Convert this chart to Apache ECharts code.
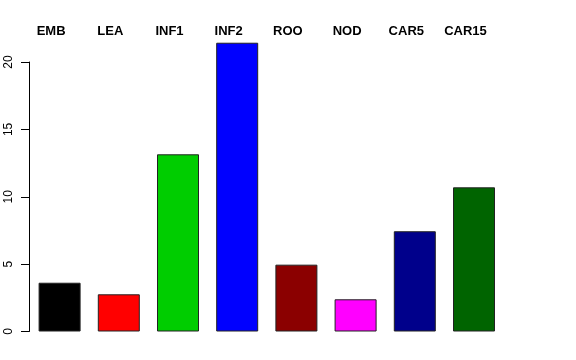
<!DOCTYPE html>
<html>
<head>
<meta charset="utf-8">
<script src="https://cdn.jsdelivr.net/npm/echarts@6/dist/echarts.min.js"></script>
<style>html,body{margin:0;padding:0;background:#fff}#c{width:576px;height:360px}</style>
</head>
<body>
<div id="c"></div>
<script>
var categories = ['EMB', 'LEA', 'INF1', 'INF2', 'ROO', 'NOD', 'CAR5', 'CAR15'];
var values = [3.62, 2.76, 13.15, 21.43, 4.96, 2.39, 7.44, 10.70];
var barColors = ['#000000', '#FF0000', '#00CD00', '#0000FF', '#8B0000', '#FF00FF', '#00008B', '#006400'];
var yTicks = [0, 5, 10, 15, 20];

var chart = echarts.init(document.getElementById('c'), null, {renderer: 'canvas'});
chart.setOption({
  animation: false,
  backgroundColor: '#ffffff',
  grid: {left: 30, top: 62, width: 473.6, bottom: 28.5, containLabel: false},
  xAxis: [{
    type: 'category', data: categories, position: 'bottom',
    axisLine: {show: false}, axisTick: {show: false}, axisLabel: {show: false}
  }, {
    type: 'category', data: categories, position: 'top',
    axisLine: {show: false}, axisTick: {show: false},
    axisLabel: {
      show: true, interval: 0, margin: 24,
      fontFamily: 'Liberation Sans, Arial, sans-serif', fontWeight: 'bold', fontSize: 13, color: '#000',
      padding: [0, 17, 0, 0]
    }
  }],
  yAxis: {
    type: 'value', min: yTicks[0], max: yTicks[yTicks.length - 1], interval: 5, offset: 1,
    splitLine: {show: false},
    axisLine: {show: true, lineStyle: {color: '#000', width: 1}},
    axisTick: {show: true, length: 8, lineStyle: {color: '#000'}},
    axisLabel: {
      rotate: 90, margin: 14, fontSize: 12, color: '#000',
      fontFamily: 'Liberation Sans, Arial, sans-serif'
    }
  },
  series: [{
    type: 'bar', xAxisIndex: 0, clip: false,
    barWidth: 42,
    data: values.map(function (v, i) {
      return {value: v, itemStyle: {color: barColors[i]}};
    }),
    itemStyle: {borderColor: '#222', borderWidth: 1}
  }]
});
</script>
</body>
</html>
